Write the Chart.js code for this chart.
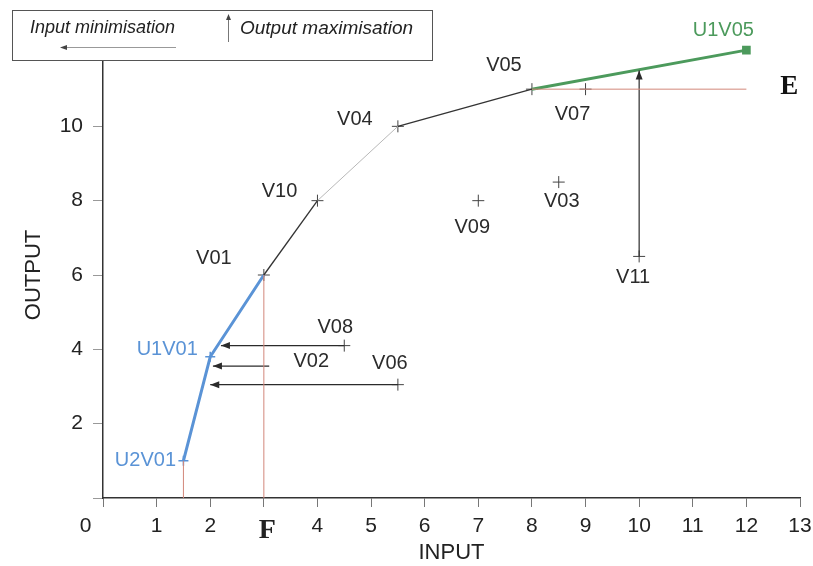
<!DOCTYPE html>
<html>
<head>
<meta charset="utf-8">
<script src="https://cdn.jsdelivr.net/npm/chart.js@4/dist/chart.umd.min.js"></script>
<style>
  html, body { margin: 0; padding: 0; background: #fff; }
  #wrap { width: 813px; height: 566px; }
</style>
</head>
<body>
<div id="wrap"><canvas id="dea"></canvas></div>
<script>
// units (input, output)
const names   = ['U2V01', 'U1V01', 'V01', 'V10', 'V04', 'V05', 'V07', 'U1V05', 'V09', 'V03', 'V11', 'V08', 'V02', 'V06'];
const inputs  = [1.5, 2, 3, 4, 5.5, 8, 9, 12, 7, 8.5, 10, 4.5, 3.1, 5.5];
const outputs = [1, 3.8, 6, 8, 10, 11, 11, 12.05, 8, 8.5, 6.5, 4.1, 3.55, 3.05];

// frontier pieces
const blueFront  = ['U2V01', 'U1V01', 'V01'];
const darkFront1 = ['V01', 'V10'];
const lightFront = ['V10', 'V04'];
const darkFront2 = ['V04', 'V05'];
const greenFront = ['V05', 'U1V05'];

// projections onto the frontier
const arrowUnits  = ['V08', 'V02', 'V06', 'V11'];
const arrowInput  = [2.2, 2.05, 2.0, 10];
const arrowOutput = [4.1, 3.55, 3.05, 11.5];

// reference lines (red)
const refInput  = [[1.5, 1.5], [3, 3], [8, 12]];
const refOutput = [[0, 1], [0, 6], [11, 11]];

const crossUnits = ['V01', 'V10', 'V04', 'V05', 'V07', 'V09', 'V03', 'V11', 'V08', 'V06'];
// the 0 label sits left of the axis, hence the padding spaces
const xTicks = ['0      ', 1, 2, ' F', 4, 5, 6, 7, 8, 9, 10, 11, 12, 13];

const BLUE = '#5a93d6';
const GREEN = '#4c9a5c';
const RED = '#d2877a';
const INK = '#2b2b2b';
const SANS = '"Liberation Sans", Arial, sans-serif';
const SERIF = '"Liberation Serif", "DejaVu Serif", serif';

function pt(n) {
  const i = names.indexOf(n);
  return { x: inputs[i], y: outputs[i] };
}

// label offsets in px from the point
const labelOffset = {
  U2V01: [-38, 0], U1V01: [-43, -7], V01: [-50, -17], V10: [-38, -9], V04: [-43, -7],
  V05: [-28, -24], V07: [-13, 25], U1V05: [-23, -20], V09: [-6, 27], V03: [3, 19],
  V11: [-6, 21], V08: [-9, -18], V02: [42, -5], V06: [-8, -21]
};

const datasets = [];
refInput.forEach((xs, k) => {
  datasets.push({
    data: xs.map((x, j) => ({ x: x, y: refOutput[k][j] })),
    borderColor: RED, borderWidth: 1, pointRadius: 0, showLine: true
  });
});
arrowUnits.forEach((u, k) => {
  datasets.push({
    data: [pt(u), { x: arrowInput[k], y: arrowOutput[k] }],
    borderColor: INK, borderWidth: 1.2, pointRadius: 0, showLine: true
  });
});
datasets.push({ data: darkFront1.map(pt), borderColor: '#333', borderWidth: 1.3, pointRadius: 0, showLine: true });
datasets.push({ data: lightFront.map(pt), borderColor: '#b8b8b8', borderWidth: 1, pointRadius: 0, showLine: true });
datasets.push({ data: darkFront2.map(pt), borderColor: '#333', borderWidth: 1.3, pointRadius: 0, showLine: true });
datasets.push({ data: blueFront.map(pt), borderColor: BLUE, borderWidth: 3, pointRadius: 0, showLine: true });
datasets.push({
  data: greenFront.map(pt), borderColor: GREEN, borderWidth: 3, showLine: true,
  pointStyle: 'rect', pointRadius: [0, 4], backgroundColor: GREEN, pointBorderColor: GREEN
});
datasets.push({
  data: crossUnits.map(pt), showLine: false, pointStyle: 'cross', pointRadius: 6,
  pointBorderColor: '#444', pointBorderWidth: 1
});
datasets.push({
  data: ['U2V01', 'U1V01'].map(pt), showLine: false, pointStyle: 'cross', pointRadius: 5,
  pointBorderColor: BLUE, pointBorderWidth: 1.5
});

const overlay = {
  id: 'overlay',
  afterDatasetsDraw(chart) {
    const ctx = chart.ctx;
    const xs = chart.scales.x, ys = chart.scales.y;

    // arrowheads
    arrowUnits.forEach((u, k) => {
      const p0 = pt(u);
      const x0 = xs.getPixelForValue(p0.x), y0 = ys.getPixelForValue(p0.y);
      const x1 = xs.getPixelForValue(arrowInput[k]), y1 = ys.getPixelForValue(arrowOutput[k]);
      const a = Math.atan2(y1 - y0, x1 - x0);
      ctx.save();
      ctx.fillStyle = INK;
      ctx.beginPath();
      ctx.moveTo(x1, y1);
      ctx.lineTo(x1 - 9 * Math.cos(a) + 3.5 * Math.sin(a), y1 - 9 * Math.sin(a) - 3.5 * Math.cos(a));
      ctx.lineTo(x1 - 9 * Math.cos(a) - 3.5 * Math.sin(a), y1 - 9 * Math.sin(a) + 3.5 * Math.cos(a));
      ctx.closePath();
      ctx.fill();
      ctx.restore();
    });

    // unit names
    ctx.save();
    ctx.font = '20px ' + SANS;
    ctx.textAlign = 'center';
    ctx.textBaseline = 'middle';
    names.forEach((n, i) => {
      const off = labelOffset[n];
      ctx.fillStyle = n === 'U1V05' ? GREEN : n.startsWith('U') ? BLUE : INK;
      ctx.fillText(n, xs.getPixelForValue(inputs[i]) + off[0], ys.getPixelForValue(outputs[i]) + off[1]);
    });

    // E marker at the output target line
    ctx.fillStyle = '#111';
    ctx.font = 'bold 27px ' + SERIF;
    ctx.fillText('E', xs.getPixelForValue(12.8), ys.getPixelForValue(11.05));
    ctx.restore();

    // key box
    ctx.save();
    ctx.fillStyle = '#fff';
    ctx.fillRect(12, 10, 420, 50);
    ctx.strokeStyle = '#555';
    ctx.lineWidth = 1;
    ctx.strokeRect(12.5, 10.5, 420, 50);
    ctx.fillStyle = '#222';
    ctx.font = 'italic 18px ' + SANS;
    ctx.textAlign = 'left';
    ctx.textBaseline = 'middle';
    ctx.fillText('Input minimisation', 30, 28);
    ctx.font = 'italic 19px ' + SANS;
    ctx.fillText('Output maximisation', 240, 29);
    // left arrow
    ctx.strokeStyle = '#999';
    ctx.beginPath();
    ctx.moveTo(176, 47.5);
    ctx.lineTo(64, 47.5);
    ctx.stroke();
    ctx.fillStyle = '#444';
    ctx.beginPath();
    ctx.moveTo(60, 47.5); ctx.lineTo(67, 45); ctx.lineTo(67, 50); ctx.closePath();
    ctx.fill();
    // up arrow
    ctx.strokeStyle = '#777';
    ctx.beginPath();
    ctx.moveTo(228.5, 42);
    ctx.lineTo(228.5, 18);
    ctx.stroke();
    ctx.fillStyle = '#444';
    ctx.beginPath();
    ctx.moveTo(228.5, 14); ctx.lineTo(226, 20); ctx.lineTo(231, 20); ctx.closePath();
    ctx.fill();
    ctx.restore();
  }
};

new Chart(document.getElementById('dea'), {
  type: 'scatter',
  data: { datasets: datasets },
  options: {
    responsive: true,
    maintainAspectRatio: false,
    animation: false,
    layout: { padding: { left: 21, right: 13, top: 52, bottom: 0 } },
    plugins: { legend: { display: false }, tooltip: { enabled: false } },
    elements: { line: { tension: 0 } },
    clip: false,
    scales: {
      x: {
        type: 'linear', min: 0, max: 13,
        afterFit: s => { s.height = 68; s.paddingLeft = 0; s.paddingRight = 0; },
        border: { color: '#333', width: 1.5 },
        grid: { display: true, drawOnChartArea: false, tickLength: 9, color: '#777' },
        ticks: {
          stepSize: 1, padding: 7, color: '#222',
          callback: v => xTicks[v],
          font: c => (c.tick && c.tick.value === 3)
            ? { family: SERIF, size: 28, weight: 'bold' }
            : { family: SANS, size: 21 }
        },
        title: {
          display: true, text: 'INPUT', color: '#222', padding: { top: 0, bottom: 0 },
          font: { family: SANS, size: 22 }
        }
      },
      y: {
        type: 'linear', min: 0, max: 12,
        afterFit: s => { s.width = 82; s.paddingTop = 0; s.paddingBottom = 0; },
        border: { color: '#333', width: 1.5 },
        grid: { display: true, drawOnChartArea: false, tickLength: 10, color: '#999' },
        ticks: {
          stepSize: 2, padding: 10, color: '#222',
          callback: v => (v === 0 || v === 12) ? '' : v,
          font: { family: SANS, size: 21 }
        },
        title: {
          display: true, text: 'OUTPUT', color: '#222', padding: { top: 0, bottom: 0 },
          font: { family: SANS, size: 22 }
        }
      }
    }
  },
  plugins: [overlay]
});
</script>
</body>
</html>
